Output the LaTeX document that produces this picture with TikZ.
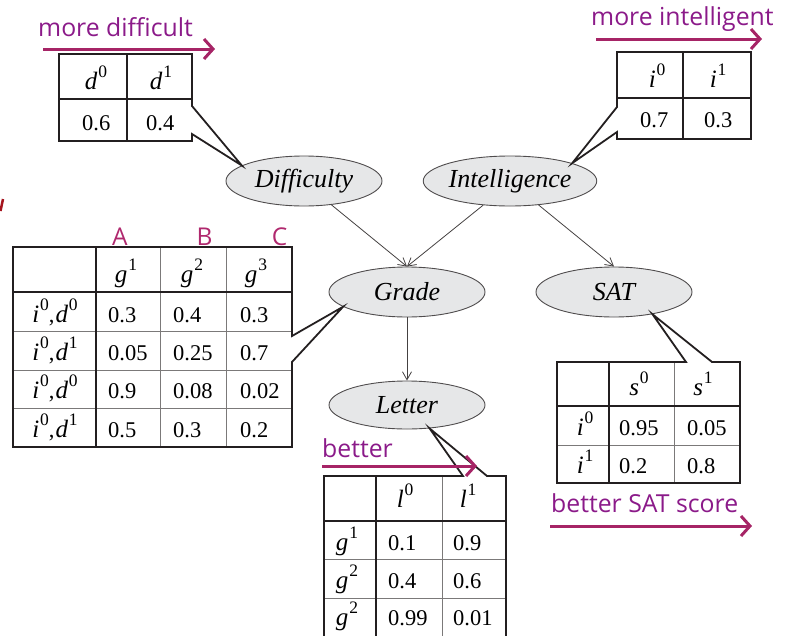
\documentclass[tikz,border=0pt]{standalone}
\usepackage{fontspec}
\setmainfont{Liberation Serif}
\newfontfamily\annfont{Open Sans}
\usetikzlibrary{shapes.geometric,arrows.meta}
\definecolor{anntext}{RGB}{139,26,137}
\definecolor{annarrow}{RGB}{166,36,102}
\definecolor{abccol}{RGB}{176,40,110}
\definecolor{ellfill}{RGB}{230,231,232}
\definecolor{ink}{RGB}{35,31,32}
\definecolor{redmark}{RGB}{165,20,30}
\newcommand\sv[2]{{\fontsize{25}{28}\selectfont\textit{#1}\kern0.8pt\raisebox{11.5pt}{\fontsize{17.5}{18}\selectfont #2}}}
\begin{document}
\begin{tikzpicture}[x=1pt,y=-1pt,
 ell/.style={ellipse,draw=ink!80,line width=0.9pt,fill=ellfill,minimum width=156pt,minimum height=50pt,inner sep=0pt,font=\fontsize{26}{30}\selectfont\itshape},
 arr/.style={draw=ink!85,line width=0.8pt,-{Straight Barb[length=8pt,width=9pt]}},
 tabthick/.style={draw=ink,line width=1.8pt,line join=miter},
 tabmid/.style={draw=ink,line width=1.5pt},
 tabthin/.style={draw=ink!60,line width=0.8pt},
 cell/.style={font=\fontsize{22.5}{26}\selectfont,inner sep=0pt},
 ann/.style={text=anntext,font=\annfont\fontsize{24.8}{28}\selectfont,inner sep=0pt},
 abcl/.style={text=abccol,font=\annfont\fontsize{24.5}{28}\selectfont,inner sep=0pt},
 annarr/.style={draw=annarrow,line width=3pt,-{Straight Barb[length=9pt,width=20pt]}}
]
\useasboundingbox (0,0) rectangle (785,635);
\clip (0,0) rectangle (785,635);

% ellipses
\node[ell] (diff) at (304,181) {Difficulty};
\node[ell] (intel) at (510,181) {Intelligence};
\node[ell] (grade) at (407,292) {Grade};
\node[ell] (sat) at (614,292) {SAT};
\node[ell,minimum height=48pt] (letter) at (407,405) {Letter};

% arrows
\draw[arr] (diff.-41) -- (grade.north);
\draw[arr] (intel.-138) -- (grade.north);
\draw[arr] (intel.-40) -- (sat.north);
\draw[arr] (grade.south) -- (letter.north);

% callout tips
\coordinate (tipD) at (diff.166);
\coordinate (tipI) at (intel.16);
\coordinate (tipG) at (grade.193);
\coordinate (tipS) at (sat.-30);
\coordinate (tipL) at (letter.-46);

% ---- Difficulty table
\draw[tabmid] (127,54) -- (127,141) (59,99) -- (192,99);
\draw[tabthick] (192,106) -- (tipD) -- (192,134) -- (192,141) -- (59,141) -- (59,54) -- (192,54) -- cycle;
\node[cell,anchor=base] (dh0) at (96,89) {\sv{d}{0}};
\node[cell,anchor=base] (dh1) at (161,89) {\sv{d}{1}};
\node[cell,anchor=base west] (dv0) at (82,130) {0.6};
\node[cell,anchor=base west] (dv1) at (146,130) {0.4};

% ---- Intelligence table
\draw[tabmid] (683,52) -- (683,139) (617,98) -- (751,98);
\draw[tabthick] (617,132) -- (tipI) -- (617,107) -- (617,52) -- (751,52) -- (751,139) -- (617,139) -- cycle;
\node[cell,anchor=base] (ih0) at (657,87) {\sv{i}{0}};
\node[cell,anchor=base] (ih1) at (718,87) {\sv{i}{1}};
\node[cell,anchor=base west] (iv0) at (640,127) {0.7};
\node[cell,anchor=base west] (iv1) at (704,127) {0.3};

% ---- Grade table
\draw[tabthin] (160,247) -- (160,447) (226,247) -- (226,447)
  (13,331) -- (292,331) (13,370) -- (292,370) (13,408) -- (292,408);
\draw[tabthick] (96,247) -- (96,447) (13,292) -- (292,292);
\draw[tabthick] (292,336) -- (tipG) -- (292,362) -- (292,447) -- (13,447) -- (13,247) -- (292,247) -- cycle;
\node[cell,anchor=base] (gh1) at (126,282) {\sv{g}{1}};
\node[cell,anchor=base] (gh2) at (192,282) {\sv{g}{2}};
\node[cell,anchor=base] (gh3) at (256,282) {\sv{g}{3}};
\foreach \r/\yb/\dd/\va/\vb/\vc in {1/322/0/0.3/0.4/0.3, 2/360/1/0.05/0.25/0.7, 3/398/0/0.9/0.08/0.02, 4/437/1/0.5/0.3/0.2}{
  \node[cell,anchor=base] (gl\r) at (55,\yb) {\sv{i}{0},\kern1pt\sv{d}{\dd}};
  \node[cell,anchor=base west] (ga\r) at (108,\yb) {\va};
  \node[cell,anchor=base west] (gb\r) at (173,\yb) {\vb};
  \node[cell,anchor=base west] (gc\r) at (240,\yb) {\vc};
}
\node[abcl,anchor=base] (labA) at (120,245) {A};
\node[abcl,anchor=base] (labB) at (204.5,245) {B};
\node[abcl,anchor=base] (labC) at (279.5,245) {C};

% ---- SAT table
\draw[tabthin] (674,362) -- (674,483) (557,445) -- (740,445);
\draw[tabthick] (609,362) -- (609,483) (557,406) -- (740,406);
\draw[tabthick] (686,362) -- (tipS) -- (712,362) -- (740,362) -- (740,483) -- (557,483) -- (557,362) -- cycle;
\node[cell,anchor=base] (sh0) at (639,395) {\sv{s}{0}};
\node[cell,anchor=base] (sh1) at (703,395) {\sv{s}{1}};
\node[cell,anchor=base] (sl0) at (585,435) {\sv{i}{0}};
\node[cell,anchor=base west] (sa0) at (619,435) {0.95};
\node[cell,anchor=base west] (sb0) at (687,435) {0.05};
\node[cell,anchor=base] (sl1) at (585,473) {\sv{i}{1}};
\node[cell,anchor=base west] (sa1) at (619,473) {0.2};
\node[cell,anchor=base west] (sb1) at (687,473) {0.8};

% ---- Letter table
\draw[tabthin] (442,476) -- (442,645) (324,559) -- (506,559) (324,598) -- (506,598);
\draw[tabthick] (376,476) -- (376,645) (324,521) -- (506,521);
\draw[tabthick] (463,476) -- (tipL) -- (487,476) -- (506,476) -- (506,645) -- (324,645) -- (324,476) -- cycle;
\node[cell,anchor=base] (lh0) at (405,507) {\sv{l}{0}};
\node[cell,anchor=base] (lh1) at (468,507) {\sv{l}{1}};
\foreach \r/\yb/\gg/\va/\vb in {1/550/1/0.1/0.9, 2/588/2/0.4/0.6, 3/625/2/0.99/0.01}{
  \node[cell,anchor=base] (ll\r) at (347,\yb) {\sv{g}{\gg}};
  \node[cell,anchor=base west] (la\r) at (388,\yb) {\va};
  \node[cell,anchor=base west] (lb\r) at (453,\yb) {\vb};
}

% ---- annotations
\node[ann,anchor=base west] (amd) at (38,36) {more difficult};
\coordinate (amdA) at (43,49); \coordinate (amdB) at (215,49);
\draw[annarr] (amdA) -- (amdB);
\node[ann,anchor=base west] (ami) at (591,25) {more intelligent};
\coordinate (amiA) at (596,39); \coordinate (amiB) at (762,39);
\draw[annarr] (amiA) -- (amiB);
\node[ann,anchor=base west] (abt) at (322,457) {better};
\coordinate (abtA) at (322,466); \coordinate (abtB) at (477,466);
\draw[annarr] (abtA) -- (abtB);
\node[ann,anchor=base west] (abs) at (551,512) {better SAT score};
\coordinate (absA) at (550,526); \coordinate (absB) at (752,526);
\draw[annarr] (absA) -- (absB);

% stray red mark
\draw[redmark,line width=2.5pt] (3,199) -- (0.5,211);
\end{tikzpicture}
\end{document}
